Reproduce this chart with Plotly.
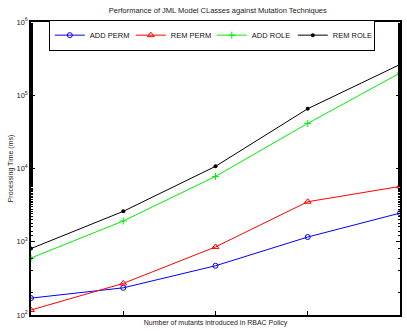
import plotly.graph_objects as go

x_vals = [1, 2, 3, 4, 5]
add_perm = [170, 235, 470, 1160, 2460]
rem_perm = [117, 270, 850, 3520, 5690]
add_role = [600, 1920, 7800, 41300, 201000]
rem_role = [807, 2600, 10700, 65500, 263000]

series = [
    ("ADD PERM", add_perm, "#0000ff", dict(symbol="circle-open", size=5, line=dict(width=1, color="#0000ff"))),
    ("REM PERM", rem_perm, "#ff0000", dict(symbol="triangle-up-open", size=6, line=dict(width=1, color="#ff0000"))),
    ("ADD ROLE", add_role, "#00ee00", dict(symbol="cross-thin-open", size=5, line=dict(width=1, color="#00ee00"))),
    ("REM ROLE", rem_role, "#000000", dict(symbol="circle", size=4, color="#000000")),
]

fig = go.Figure()
for name, vals, col, mk in series:
    m = dict(mk)
    m.setdefault("color", col)
    fig.add_trace(go.Scatter(x=x_vals, y=vals, mode="lines+markers", name=name,
                             line=dict(color=col, width=1), marker=m))

ytickvals = [100, 1000, 10000, 100000, 1000000]
yticktext = ["10<sup>2</sup>", "10<sup>3</sup>", "10<sup>4</sup>", "10<sup>5</sup>", "10<sup>6</sup>"]

fig.update_layout(
    width=407, height=334,
    margin=dict(l=31, r=5, t=22, b=19),
    paper_bgcolor="white", plot_bgcolor="white",
    font=dict(family="Liberation Sans, Arial, sans-serif", size=7, color="#222"),
    title=dict(text="Performance of JML Model CLasses against Mutation Techniques",
               x=0.535, xanchor="center", y=0.968, yanchor="middle", font=dict(size=7.5)),
    showlegend=True,
    legend=dict(orientation="h", x=0.49, xanchor="center", y=1.008, yanchor="top",
                bordercolor="black", borderwidth=1, bgcolor="white",
                font=dict(size=7.5, color="#111"), itemwidth=30, tracegroupgap=0,
                entrywidth=36, entrywidthmode="pixels"),
    xaxis=dict(range=[1, 5], tickvals=x_vals, showticklabels=False, ticks="inside",
               ticklen=4, tickcolor="black", showline=True, linecolor="black", linewidth=1.5,
               mirror="ticks", showgrid=False, zeroline=False,
               title=dict(text="Number of mutants introduced in RBAC Policy", standoff=4,
                          font=dict(size=7))),
    yaxis=dict(type="log", range=[2, 6], tickvals=ytickvals, ticktext=yticktext,
               ticks="inside", ticklen=4, tickcolor="black", showline=True, linecolor="black",
               linewidth=1.5, mirror="ticks", showgrid=False, zeroline=False,
               minor=dict(ticks="inside", ticklen=2, tickcolor="black", showgrid=False),
               tickfont=dict(size=7.5),
               title=dict(text="Processing Time (ms)", standoff=2, font=dict(size=7))),
)

fig.write_html("out.html")
